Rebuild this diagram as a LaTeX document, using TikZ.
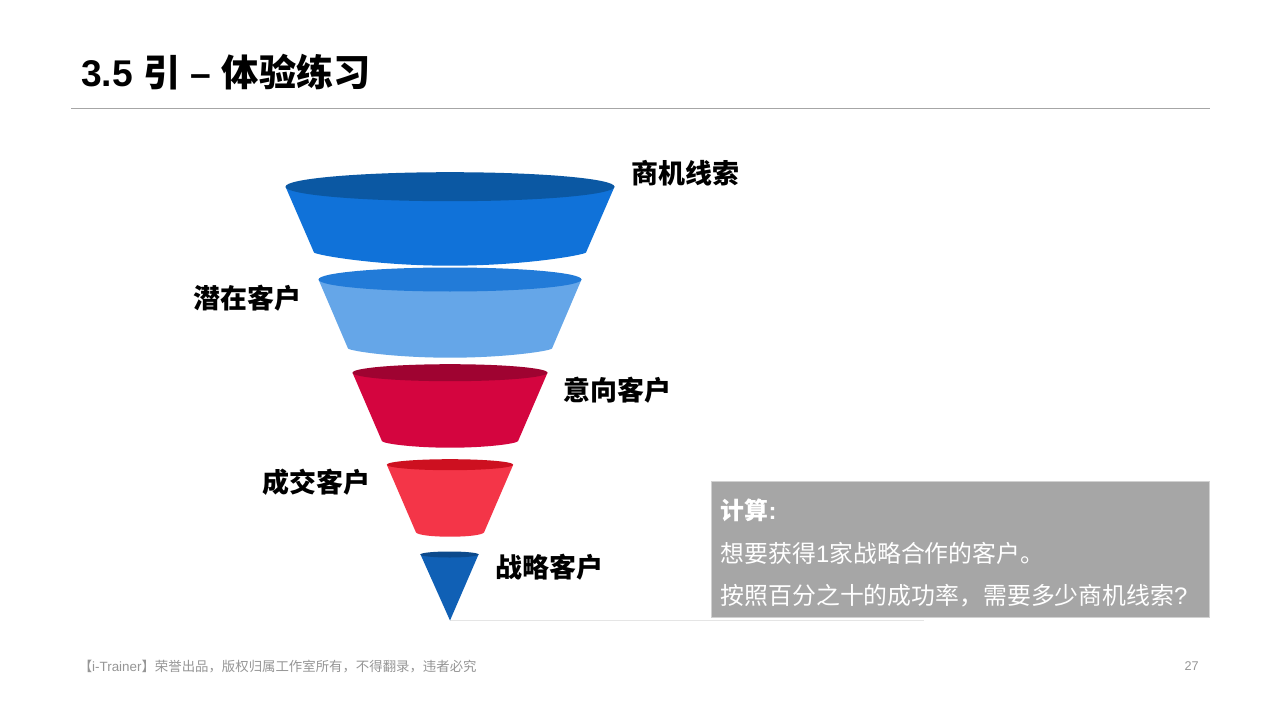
\documentclass[tikz,border=0pt]{standalone}
\usepackage{fontspec}
\setmainfont{Liberation Sans}
\newfontfamily\cjk{Noto Sans CJK SC}
\definecolor{fa}{HTML}{1072D9}\definecolor{fat}{HTML}{0B58A3}
\definecolor{fb}{HTML}{65A6E8}\definecolor{fbt}{HTML}{227BD8}
\definecolor{fc}{HTML}{D4053F}\definecolor{fct}{HTML}{9F0331}
\definecolor{fd}{HTML}{F43548}\definecolor{fdt}{HTML}{CD1020}
\definecolor{fe}{HTML}{1060B5}\definecolor{fet}{HTML}{0C4A8C}
\definecolor{rule}{HTML}{A6A6A6}
\definecolor{foot}{HTML}{969696}
\tikzset{
  funnellabel/.style={anchor=west,inner sep=0pt,font=\fontsize{20.2}{24}\cjk\bfseries,text=black},
  boxline/.style={anchor=west,inner sep=0pt,font=\fontsize{17.9}{22}\selectfont,text=white},
}
% #1 body colour, #2 top colour, #3 top half-width, #4 top cy, #5 top ry, #6 bottom half-width, #7 bottom y, #8 lowest y
\newcommand{\cupshape}[8]{%
  \fill[#1] (450-#3,#4) -- (450-#6-1,#7-1.5)
    .. controls (450-#6+1,#7+1) and (450-#6*0.55,#8) .. (450,#8)
    .. controls (450+#6*0.55,#8) and (450+#6-1,#7+1) .. (450+#6+1,#7-1.5)
    -- (450+#3,#4) -- cycle;
  \fill[#2] (450,#4) ellipse [x radius=#3, y radius=#5];
}
\begin{document}
\begin{tikzpicture}[x=0.75pt,y=-0.75pt]
\useasboundingbox (0,0) rectangle (1280,720);
\fill[white] (0,0) rectangle (1280,720);

\node[anchor=west,inner sep=0pt,font=\fontsize{27.9}{32}\selectfont\bfseries] (title) at (81,72)
  {3.5 {\cjk 引} – {\cjk 体验练习}};
\coordinate (ruleL) at (71,108.5);
\coordinate (ruleR) at (1210,108.5);
\draw[rule,line width=0.75pt] (ruleL) -- (ruleR);

\coordinate (apex) at (450,620.5);
\coordinate (baseR) at (924,620.5);
\draw[black!10,line width=1.1pt] (apex) -- (baseR);

\cupshape{fa}{fat}{164.5}{186.7}{14.5}{135}{254}{265.7}
\cupshape{fb}{fbt}{131.5}{279.5}{12}{101}{350}{357.7}
\cupshape{fc}{fct}{97.5}{372.7}{8.5}{67}{442.7}{447.7}
\cupshape{fd}{fdt}{63.2}{464.7}{5.5}{33}{534}{536.7}
\fill[fe] (420.3,554) -- (apex) -- (478.7,554) -- cycle;
\fill[fet] (449.5,554.5) ellipse [x radius=29.2, y radius=3];

\node[funnellabel] (l1) at (631.5,173.5) {商机线索};
\node[funnellabel] (l2) at (193.5,298.5) {潜在客户};
\node[funnellabel] (l3) at (563.5,390.5) {意向客户};
\node[funnellabel] (l4) at (262.5,482.5) {成交客户};
\node[funnellabel] (l5) at (495.5,567.5) {战略客户};

\node[draw=black!18,line width=0.6pt,fill=rule,minimum width=498pt*0.75,minimum height=136pt*0.75,inner sep=0pt,anchor=north west] (calc) at (711,480.5) {};
\node[boxline,font=\fontsize{17.9}{22}\selectfont\bfseries] (c1) at (720.5,510) {{\cjk 计算}:};
\node[boxline] (c2) at (720.5,553) {{\cjk 想要获得}1{\cjk 家战略合作的客户。}};
\node[boxline] (c3) at (720.5,596) {{\cjk 按照百分之十的成功率，需要多少商机线索}?};

\node[anchor=west,inner sep=0pt,text=foot,font=\fontsize{10.05}{12}\selectfont] (foot) at (78.5,666.5)
  {{\cjk 【}i-Trainer{\cjk 】荣誉出品，版权归属工作室所有，不得翻录，违者必究}};
\node[anchor=east,inner sep=0pt,text=foot,font=\fontsize{9.5}{12}\selectfont] (page) at (1199,666.5) {27};
\end{tikzpicture}
\end{document}
